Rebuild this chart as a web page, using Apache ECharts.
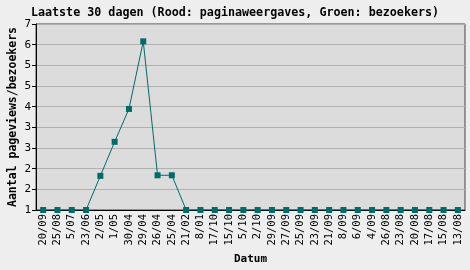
<!DOCTYPE html>
<html><head><meta charset="utf-8">
<script src="https://cdn.jsdelivr.net/npm/echarts@6/dist/echarts.min.js"></script>
<style>html,body{margin:0;padding:0;background:#eeeeee;}#c{width:470px;height:270px;}</style>
</head><body><div id="c"></div>
<script>
const categories = ["20/09","25/08","5/07","23/06","2/05","1/05","30/04","29/04","26/04","25/04","21/02","8/01","17/10","15/10","5/10","2/10","29/09","27/09","25/09","23/09","21/09","8/09","6/09","4/09","26/08","23/08","20/08","17/08","15/08","13/08"];
const visitors = [1,1,1,1,2.1,3.2,4.26,6.44,2.12,2.12,1,1,1,1,1,1,1,1,1,1,1,1,1,1,1,1,1,1,1,1];
const yTickLabels = ["1","2","2","3","3","4","5","5","6","7"];
const yMin = 1, yMax = 7;

const mono = "DejaVu Sans Mono";
const chart = echarts.init(document.getElementById('c'), null, {renderer:'canvas'});
chart.setOption({
  backgroundColor: '#eeeeee',
  animation: false,
  title: {
    text: 'Laatste 30 dagen (Rood: paginaweergaves, Groen: bezoekers)',
    left: 'center', top: 2,
    textStyle: {fontFamily: mono, fontWeight: 'bold', fontSize: 11.7, color: '#000'}
  },
  grid: {left: 36, right: 5, top: 24, bottom: 60, show: true, containLabel: false,
         outerBoundsMode: 'none',
         backgroundColor: '#dcdcdc', borderColor: '#444444', borderWidth: 1},
  xAxis: {
    type: 'category', data: categories, boundaryGap: true,
    name: 'Datum', nameLocation: 'middle', nameGap: 44, nameMoveOverlap: false,
    nameTextStyle: {fontFamily: mono, fontWeight: 'bold', fontSize: 11, color: '#000'},
    axisLine: {lineStyle: {color: '#000', width: 1}},
    axisTick: {alignWithLabel: true, length: 3, lineStyle: {color: '#000'}},
    axisLabel: {rotate: 90, fontFamily: mono, fontSize: 10.5, color: '#000', interval: 0, margin: 4},
    splitLine: {show: false}
  },
  yAxis: [{
    type: 'value', min: 0, max: yTickLabels.length - 1, interval: 1,
    name: 'Aantal pageviews/bezoekers', nameLocation: 'middle', nameGap: 17, nameMoveOverlap: false,
    nameTextStyle: {fontFamily: mono, fontWeight: 'bold', fontSize: 11.5, color: '#000'},
    axisLine: {show: true, lineStyle: {color: '#000', width: 1}},
    axisTick: {show: true, length: 4, lineStyle: {color: '#000'}},
    axisLabel: {fontFamily: mono, fontSize: 11, color: '#000', margin: 5,
      formatter: function (v) { return yTickLabels[Math.round(v)]; }},
    splitLine: {show: true, lineStyle: {color: '#b0b0b0', width: 1}}
  }, {
    type: 'value', min: yMin, max: yMax, show: false,
    splitLine: {show: false}
  }],
  series: [{
    type: 'line', data: visitors, yAxisIndex: 1,
    symbol: 'rect', symbolSize: 6,
    lineStyle: {color: '#006b6b', width: 1},
    itemStyle: {color: '#006b6b'},
    z: 5
  }]
});
</script></body></html>
